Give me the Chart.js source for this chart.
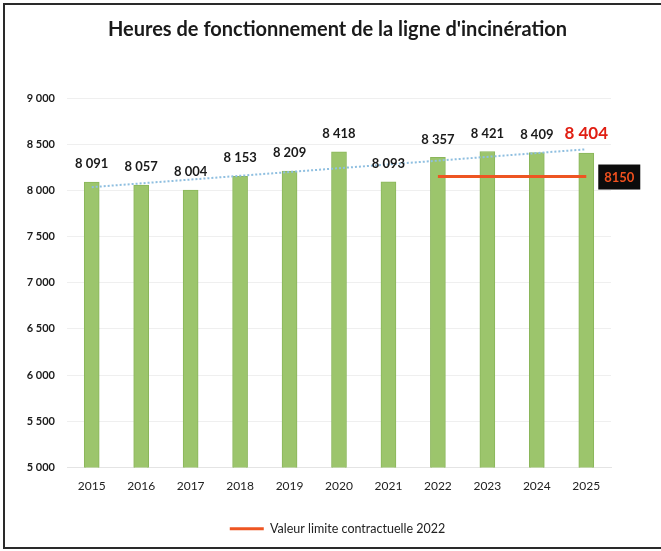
<!DOCTYPE html>
<html>
<head>
<meta charset="utf-8">
<script src="https://cdn.jsdelivr.net/npm/chart.js@4.4.0/dist/chart.umd.min.js"></script>
<style>
  html, body { margin: 0; padding: 0; background: #fff; }
  #wrap { position: relative; width: 661px; height: 551px; overflow: hidden; }
  #frame { position: absolute; left: 3px; top: 3px; width: 720px; height: 542px; border: 2px solid #2a2a2a; }
  canvas { position: absolute; left: 0; top: 0; }
</style>
</head>
<body>
<div id="wrap">
  <div id="frame"></div>
  <canvas id="myChart" width="661" height="551"></canvas>
</div>
<script>
// Données
var annees = ['2015', '2016', '2017', '2018', '2019', '2020', '2021', '2022', '2023', '2024', '2025'];
var heures = [8091, 8057, 8004, 8153, 8209, 8418, 8093, 8357, 8421, 8409, 8404];
var limite = [null, null, null, null, null, null, null, 8150, 8150, 8150, 8150];
var tendance = [8035, null, null, null, null, null, null, null, null, null, 8445];
var valeurLimite = 8150;
var titre = "Heures de fonctionnement de la ligne d'incinération";
var legendeLimite = 'Valeur limite contractuelle 2022';

function formatNombre(v) {
    return String(v).replace(/\B(?=(\d{3})+(?!\d))/g, ' ');
}

// Etiquettes au-dessus des barres + boite "8150"
var etiquettes = {
    id: 'etiquettes',
    afterDatasetsDraw: function(chart) {
        var ctx = chart.ctx;
        var meta = chart.getDatasetMeta(0);
        ctx.save();
        ctx.textAlign = 'center';
        ctx.textBaseline = 'middle';
        meta.data.forEach(function(bar, i) {
            var dernier = i === heures.length - 1;
            ctx.font = dernier ? 'bold 17px Lato' : 'bold 13px Lato';
            ctx.fillStyle = dernier ? '#e01e12' : '#1a1a1a';
            ctx.fillText(formatNombre(heures[i]), bar.x, bar.y - (dernier ? 20 : 18));
        });
        // boite de la valeur limite
        var y = chart.scales.y.getPixelForValue(valeurLimite);
        var x = chart.scales.x.getPixelForValue(annees.length - 1) + 12;
        ctx.fillStyle = '#0c0c0c';
        ctx.fillRect(x, y - 12, 42, 25);
        ctx.font = 'bold 13px Lato';
        ctx.fillStyle = '#f0501e';
        ctx.fillText(String(valeurLimite), x + 21, y + 1);
        ctx.restore();
    }
};

const ctx = document.getElementById('myChart').getContext('2d');
window.myChart = new Chart(ctx, {
    data: {
        labels: annees,
        datasets: [{
            type: 'bar',
            label: 'Heures',
            data: heures,
            backgroundColor: '#9cc56c',
            borderColor: '#8ab65a',
            borderWidth: 1,
            barThickness: 15,
            order: 3
        }, {
            type: 'line',
            label: 'Tendance',
            data: tendance,
            borderColor: '#8fbfe0',
            borderWidth: 2,
            borderDash: [2, 2],
            pointRadius: 0,
            spanGaps: true,
            order: 1
        }, {
            type: 'line',
            label: legendeLimite,
            data: limite,
            borderColor: '#ee5522',
            backgroundColor: '#ee5522',
            borderWidth: 3,
            pointRadius: 0,
            order: 2
        }]
    },
    options: {
        responsive: false,
        animation: false,
        layout: { padding: { left: 14, right: 0, top: 0, bottom: 6 } },
        plugins: {
            title: {
                display: true,
                text: titre,
                color: '#1a1a1a',
                font: { family: 'Lato', size: 20, weight: 'bold' },
                padding: { top: 18, bottom: 56 }
            },
            legend: {
                position: 'bottom',
                labels: {
                    filter: function(item) { return item.text === legendeLimite; },
                    usePointStyle: true,
                    pointStyle: 'line',
                    pointStyleWidth: 34,
                    color: '#222',
                    font: { family: 'Lato', size: 12.5 },
                    padding: 10
                }
            },
            tooltip: { enabled: false }
        },
        scales: {
            x: {
                afterFit: function(scale) { scale.height = 45; },
                grid: { display: false, drawTicks: false },
                border: { color: '#e4e4e4' },
                ticks: { color: '#222', font: { family: 'Lato', size: 12 }, padding: 11 }
            },
            y: {
                min: 5000,
                max: 9000,
                afterFit: function(scale) { scale.width = 53; },
                grid: { color: '#efefef', drawTicks: false },
                border: { display: false },
                ticks: {
                    stepSize: 500,
                    color: '#1a1a1a',
                    padding: 12,
                    font: { family: 'Lato', size: 11, weight: 'bold' },
                    callback: function(v) { return formatNombre(v); }
                }
            },
            y2: {
                position: 'right',
                afterFit: function(scale) { scale.width = 50; },
                grid: { drawOnChartArea: false, drawTicks: false },
                border: { display: false },
                ticks: { display: false }
            }
        }
    },
    plugins: [etiquettes]
});
</script>
</body>
</html>
